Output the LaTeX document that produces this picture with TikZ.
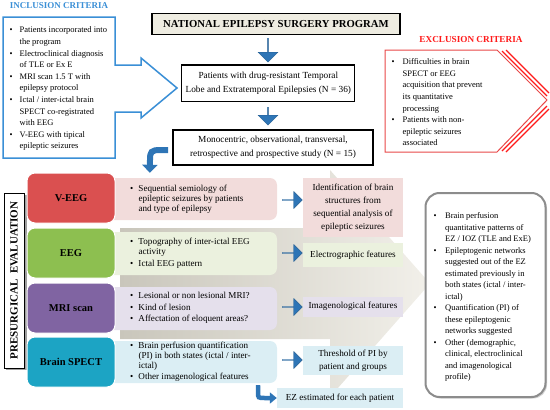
\documentclass[tikz,border=0pt]{standalone}
\usepackage{fontspec}
\setmainfont{Liberation Serif}
\usetikzlibrary{shapes.arrows,calc,arrows.meta,shadows}
\definecolor{arrblue}{HTML}{2E75B6}
\definecolor{inclblue}{HTML}{3A8FD6}
\definecolor{exred}{HTML}{FF1A1A}
\definecolor{exline}{HTML}{E84848}
\definecolor{veegc}{HTML}{DA5050}
\definecolor{eegc}{HTML}{8DBF50}
\definecolor{mric}{HTML}{8064A2}
\definecolor{spectc}{HTML}{1CA4C4}
\definecolor{palepink}{HTML}{F2DCDB}
\definecolor{palegreen}{HTML}{EBF1DE}
\definecolor{palepurple}{HTML}{E5E0EC}
\definecolor{paleblue}{HTML}{DBEEF4}
\definecolor{natfill}{HTML}{EEECE1}
\definecolor{bgdark}{HTML}{C9C6BB}
\definecolor{bglight}{HTML}{F2F0EA}
\newcommand{\bl}[1]{\makebox[#1][l]{\textbullet}}
\begin{document}
\begin{tikzpicture}[x=1pt,y=-1pt,
  rarrow/.style={single arrow, fill=arrblue, draw=arrblue!80!black, line width=0.4pt,
    minimum height=20pt, minimum width=17pt, single arrow head extend=3.5pt, inner sep=0pt},
  darrow/.style={single arrow, fill=arrblue, draw=arrblue!80!black, line width=0.4pt,
    shape border rotate=270, minimum width=20pt, single arrow head extend=4.5pt, inner sep=0pt},
  catbox/.style={rounded corners=8pt, draw=white, line width=1pt, minimum width=88pt,
    minimum height=50pt, font=\bfseries\fontsize{10.5}{12}\selectfont},
  palebox/.style={rounded corners=7pt, minimum width=177pt},
  resbox/.style={minimum width=100pt, align=center, font=\fontsize{9.2}{13}\selectfont, inner sep=0pt},
  frame/.style={draw=black, align=center, font=\fontsize{9.3}{14}\selectfont},
  listtxt/.style={anchor=north west, inner sep=0pt, font=\fontsize{8.5}{11.6}\selectfont},
  paletxt/.style={anchor=west, inner sep=0pt, font=\fontsize{9.1}{10}\selectfont}
]
\useasboundingbox (0,0) rectangle (550,410);

% background big arrow
\shade[left color=bgdark, right color=bglight] (120,228) -- (330,228) -- (330,170) -- (430,283.5) -- (330,397) -- (330,339) -- (120,339) -- cycle;

% inclusion criteria
\node[font=\bfseries\fontsize{9}{11}\selectfont, text=inclblue] (inct) at (59,6) {INCLUSION CRITERIA};
\draw[inclblue, line width=1.5pt, fill=white] (3,17) -- (115,17) -- (115,65) -- (141,65) -- (141,58) -- (177,88) -- (141,118) -- (141,112) -- (115,112) -- (115,158) -- (3,158) -- cycle;
\node[listtxt] (incl) at (9.5,24.6) {\begin{tabular}{@{}l@{}l@{}}
\bl{10pt}&Patients incorporated into\\
&the program\\
\bl{10pt}&Electroclinical diagnosis\\
&of TLE  or Ex E\\
\bl{10pt}&MRI scan 1.5 T with\\
&epilepsy protocol\\
\bl{10pt}&Ictal / inter-ictal brain\\
&SPECT co-registrated\\
&with EEG\\
\bl{10pt}&V-EEG  with tipical\\
&epileptic seizures
\end{tabular}};

% top flow
\node[frame, fill=natfill, line width=1.3pt, minimum width=248pt, minimum height=21pt,
  font=\bfseries\fontsize{10.7}{12}\selectfont] (nat) at (276,23.8) {NATIONAL EPILEPSY SURGERY PROGRAM};
\node[frame, line width=1.3pt, minimum width=173pt, minimum height=36.7pt] (pat) at (268.3,83.3)
  {Patients with drug-resistant Temporal\\Lobe and Extratemporal Epilepsies (N = 36)};
\node[frame, line width=2pt, minimum width=200pt, minimum height=35pt] (mono) at (273,147.5)
  {Monocentric, observational, transversal,\\retrospective and prospective study (N = 15)};
\node[darrow, minimum height=24pt] (d1) at (268,50) {};
\node[darrow, minimum height=18pt] (d2) at (268,116) {};

% exclusion criteria
\node[font=\bfseries\fontsize{9.2}{11}\selectfont, text=exred] (exct) at (471,39) {EXCLUSION CRITERIA};
\draw[exline, line width=1pt, fill=white] (385,50) -- (497,50) -- (547,100) -- (497,152) -- (385,152) -- cycle;
\draw[exred, line width=1.3pt] (502,51) -- (547,96);
\draw[exred, line width=1.3pt] (506,50) -- (549,93);
\draw[exred, line width=1.3pt] (502,151) -- (547,106);
\draw[exred, line width=1.3pt] (506,152) -- (549,109);
\node[listtxt] (excl) at (391.5,56.3) {\begin{tabular}{@{}l@{}l@{}}
\bl{11pt}&Difficulties in brain\\
&SPECT  or EEG\\
&acquisition that prevent\\
&its quantitative\\
&processing\\
\bl{11pt}&Patients with non-\\
&epileptic seizures\\
&associated
\end{tabular}};

% presurgical label
\fill[gray!75] (6,195) rectangle (26.5,370);
\node[draw=black, line width=0.8pt, fill=white, rotate=90, minimum width=175pt, minimum height=20pt,
  inner sep=0pt, font=\bfseries\fontsize{11}{13}\selectfont] (pre) at (14,280.5) {PRESURGICAL\ \ EVALUATION};

% pale description boxes
\node[palebox, fill=palepink, minimum height=42pt] (veegd) at (188.5,199) {};
\node[palebox, fill=palegreen, minimum height=43pt] (eegd) at (188.5,253.5) {};
\node[palebox, fill=palepurple, minimum height=43pt] (mrid) at (188.5,308.5) {};
\node[palebox, fill=paleblue, minimum height=42pt] (spectd) at (188.5,362) {};

% category boxes
\node[catbox, fill=veegc] (veeg) at (71,198) {V-EEG};
\node[catbox, fill=eegc] (eeg) at (71,253) {EEG};
\node[catbox, fill=mric] (mri) at (71,308) {MRI scan};
\node[catbox, fill=spectc] (spect) at (71,362) {Brain SPECT};

% description texts
\node[paletxt] (t1) at (130,199) {\begin{tabular}{@{}l@{}l@{}}
\bl{8.3pt}&Sequential semiology of\\
&epileptic seizures by patients\\
&and type of epilepsy
\end{tabular}};
\node[paletxt] (t2) at (130,253.5) {\begin{tabular}{@{}l@{}l@{}}
\bl{8.3pt}&Topography of inter-ictal EEG\\
&activity\\[1.3pt]
\bl{8.3pt}&Ictal EEG pattern
\end{tabular}};
\node[paletxt] (t3) at (130,308) {\begin{tabular}{@{}l@{}l@{}}
\bl{8.3pt}&Lesional or non lesional MRI?\\[1.5pt]
\bl{8.3pt}&Kind of lesion\\[1.5pt]
\bl{8.3pt}&Affectation of eloquent areas?
\end{tabular}};
\node[paletxt] (t4) at (130,362) {\begin{tabular}{@{}l@{}l@{}}
\bl{8.3pt}&Brain perfusion quantification\\
&(PI) in both states (ictal / inter-\\
&ictal)\\[1.3pt]
\bl{8.3pt}&Other imagenological  features
\end{tabular}};

% result boxes
\node[resbox, fill=palepink, minimum height=59pt] (r1) at (353,207.5)
  {Identification of brain\\structures from\\sequential analysis of\\epileptic seizures};
\node[resbox, fill=palegreen, minimum height=24pt] (r2) at (353,255) {Electrographic features};
\node[resbox, fill=palepurple, minimum height=20pt] (r3) at (353,306.5) {Imagenological features};
\node[resbox, fill=paleblue, minimum height=29pt] (r4) at (353,360.5) {Threshold of PI by\\patient and groups};
\node[resbox, fill=paleblue, minimum width=126pt, minimum height=20pt] (ez) at (340,398) {EZ estimated for each patient};

% right arrows
\node[rarrow] (a1) at (292,200) {};
\node[rarrow] (a2) at (292,253) {};
\node[rarrow] (a3) at (292,307) {};
\node[rarrow] (a4) at (292,360) {};

% curved arrows
\draw[arrblue, line width=6pt, -{Triangle[width=15pt,length=8pt]}]
  ($(mono.west)+(-4,2.5)$) -- (160,150) .. controls (151,150) and (150,152) .. (150,160) -- ($(veegd.north west)+(50,-5)$);
\draw[arrblue, line width=4.5pt, -{Triangle[width=11pt,length=7pt]}]
  ($(spectd.south east)+(-19,2)$) -- (258,392) .. controls (258,398) .. (265,398) -- (ez.west);

% right summary box
\node[draw=gray!90, line width=2pt, rounded corners=14pt, fill=white, minimum width=120pt, minimum height=204pt,
  drop shadow={shadow xshift=1.5pt, shadow yshift=-1.5pt, fill=gray!70}] (sum) at (485.5,295) {};
\node[listtxt, font=\fontsize{8.5}{11.5}\selectfont] (sumt) at (433.5,210.6) {\begin{tabular}{@{}l@{}l@{}}
\bl{11.5pt}&Brain perfusion\\
&quantitative patterns of\\
&EZ / IOZ  (TLE and ExE)\\
\bl{11.5pt}&Epileptogenic networks\\
&suggested out of the EZ\\
&estimated previously in\\
&both states (ictal / inter-\\
&ictal)\\
\bl{11.5pt}&Quantification (PI) of\\
&these epileptogenic\\
&networks suggested\\
\bl{11.5pt}&Other (demographic,\\
&clinical, electroclinical\\
&and imagenological\\
&profile)
\end{tabular}};
\end{tikzpicture}
\end{document}
